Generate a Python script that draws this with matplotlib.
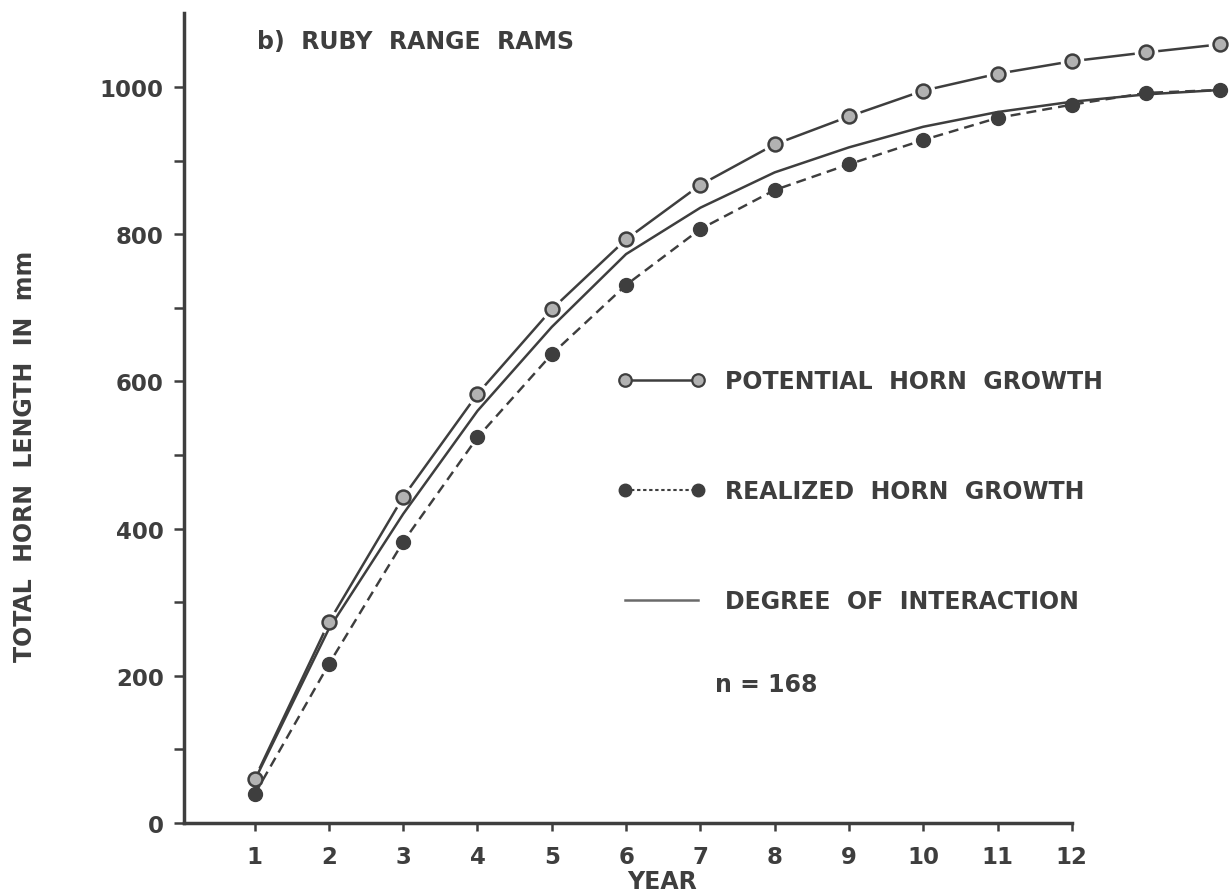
import matplotlib.pyplot as plt
from matplotlib.lines import Line2D
from matplotlib.ticker import FixedLocator

# horn length (mm) by year of life
years = [1, 2, 3, 4, 5, 6, 7, 8, 9, 10, 11, 12, 13, 14]
potential = [60, 273, 443, 583, 698, 793, 867, 922, 960, 995, 1018, 1035, 1047, 1058]
realized = [39, 216, 382, 524, 637, 731, 807, 860, 895, 928, 958, 976, 992, 996]
interaction = [58, 264, 420, 560, 674, 773, 836, 884, 918, 946, 966, 980, 990, 996]

xticks = [1, 2, 3, 4, 5, 6, 7, 8, 9, 10, 11, 12]
yticks = [0, 200, 400, 600, 800, 1000]
yminor = [100, 300, 500, 700, 900]

labels = ['POTENTIAL  HORN  GROWTH', 'REALIZED  HORN  GROWTH', 'DEGREE  OF  INTERACTION']

ink = '#3e3e3e'
ring = '#b2b2b2'
fs = 17
w = 1.8

plt.rcParams['font.family'] = 'DejaVu Sans'
plt.rcParams['font.weight'] = 'bold'
plt.rcParams['axes.labelweight'] = 'bold'

fig = plt.figure(figsize=(12.32, 8.95), dpi=100)
ax = fig.add_axes([0.1494, 0.0793, 0.8472, 0.9046])

# potential: solid segments broken around each open marker
ax.plot(years, potential, color=ink, lw=w, zorder=2, clip_on=False)
ax.plot(years, potential, ls='none', marker='o', ms=16, mfc='white', mec='white',
        zorder=2.5, clip_on=False)
ax.plot(years, potential, ls='none', marker='o', ms=10, mfc=ring, mec=ink, mew=1.8,
        zorder=4, clip_on=False)

# realized: dashed with filled markers
ax.plot(years, realized, color=ink, lw=1.75, ls=(0, (4.1, 2.5)), marker='o', ms=10,
        mfc=ink, mec=ink, zorder=3.5, clip_on=False)

# degree of interaction
ax.plot(years, interaction, color=ink, lw=w, zorder=3, clip_on=False)

ax.set_xlim(0.05, 14.1)
ax.set_ylim(0, 1100)

for side in ['top', 'right']:
    ax.spines[side].set_visible(False)
for side in ['left', 'bottom']:
    ax.spines[side].set_linewidth(2.5)
    ax.spines[side].set_color(ink)
ax.spines['left'].set_bounds(0, 1100)
ax.spines['bottom'].set_bounds(0.05, 12)

ax.set_xticks(xticks)
ax.set_yticks(yticks)
ax.yaxis.set_minor_locator(FixedLocator(yminor))
ax.tick_params(axis='y', which='both', direction='out', length=7.2, width=1.8, pad=7.5,
               colors=ink, labelsize=fs - 0.5)
ax.tick_params(axis='x', direction='out', length=5.8, width=1.8, pad=10,
               colors=ink, labelsize=fs - 0.5)

ax.set_xlabel('YEAR', fontsize=fs, color=ink)
ax.xaxis.set_label_coords(0.458, -0.057)
ax.set_ylabel('TOTAL  HORN  LENGTH  IN  mm', fontsize=fs, color=ink, va='center')
ax.yaxis.set_label_coords(-0.152, 0.4545)

ax.text(1.03, 1062, 'b)  RUBY  RANGE  RAMS', fontsize=fs, color=ink, va='center')
ax.text(7.2, 189, 'n = 168', fontsize=fs, color=ink, va='center')

handles = [
    Line2D([], [], color=ink, lw=w, marker='o', ms=9, mfc=ring, mec=ink, mew=1.6),
    Line2D([], [], color=ink, lw=1.5, ls=(0, (1.6, 1.3)), marker='o', ms=9, mfc=ink, mec=ink),
    Line2D([], [], color='#6a6a6a', lw=w),
]
ax.legend(handles, labels, loc='upper left', bbox_to_anchor=(0.4158, 0.5608),
          frameon=False, fontsize=fs, labelcolor=ink, numpoints=2, handlelength=3.7,
          handletextpad=0.85, labelspacing=3.65, borderpad=0, borderaxespad=0)

fig.savefig('out.png', dpi=100, facecolor='white')
